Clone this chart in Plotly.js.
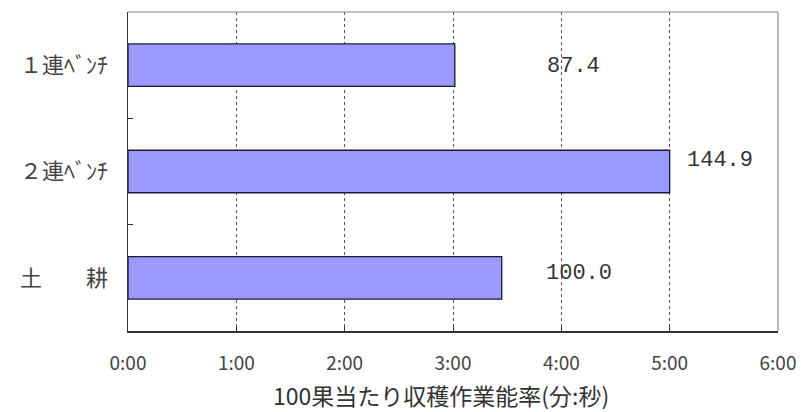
<!DOCTYPE html>
<html>
<head>
<meta charset="utf-8">
<script src="https://cdn.plot.ly/plotly-3.0.1.min.js"></script>
<style>
  html, body { margin: 0; padding: 0; background: #fff; }
  #chart { width: 801px; height: 412px; }
</style>
</head>
<body>
<div id="chart"></div>
<script>
// Harvest work time per 100 fruits, in seconds, by cultivation method
const categories = ['１連ﾍﾞﾝﾁ', '２連ﾍﾞﾝﾁ', '土　　耕'];
const seconds = [181, 300, 207];
// Index relative to soil cultivation (= 100.0)
const indexLabels = ['87.4', '144.9', '100.0'];
const tickSeconds = [0, 60, 120, 180, 240, 300, 360];
const tickLabels = ['0:00', '1:00', '2:00', '3:00', '4:00', '5:00', '6:00'];
const axisTitle = '100果当たり収穫作業能率(分:秒)';

// Placement of each index label: position along the axis (s) and vertical nudge (px)
const labelX = [247, 328, 250];
const labelShift = [-1.5, 11, 4.5];

const gothic = 'Noto Sans CJK JP, sans-serif';

const bars = {
  type: 'bar',
  orientation: 'h',
  y: categories,
  x: seconds,
  width: 0.4,
  marker: { color: '#9999FF', line: { color: '#1a1a33', width: 1.3 } },
  hoverinfo: 'skip'
};

const annotations = categories.map((c, i) => ({
  x: labelX[i], y: c, xref: 'x', yref: 'y',
  text: indexLabels[i], showarrow: false,
  yshift: labelShift[i],
  font: { family: 'Liberation Mono, DejaVu Sans Mono, monospace', size: 22, color: '#333' }
}));

// Axis title, set slightly left of the plot centre
annotations.push({
  xref: 'paper', yref: 'paper', x: 0.482, y: -0.2,
  xanchor: 'center', yanchor: 'middle',
  text: axisTitle, showarrow: false,
  font: { family: gothic, size: 23, color: '#333' }
});

const layout = {
  width: 801, height: 412,
  margin: { l: 128, r: 23, t: 12, b: 81 },
  paper_bgcolor: '#fff', plot_bgcolor: '#fff',
  showlegend: false,
  xaxis: {
    range: [0, 360],
    tickvals: tickSeconds, ticktext: tickLabels,
    showgrid: true, gridcolor: '#555', griddash: 'dot', gridwidth: 1,
    zeroline: false,
    showline: true, linecolor: '#333', linewidth: 1.5,
    ticks: 'inside', ticklen: 4, tickcolor: '#333',
    tickfont: { family: gothic, size: 19, color: '#444' },
    ticklabelstandoff: 15,
    fixedrange: true
  },
  yaxis: {
    type: 'category',
    categoryorder: 'array', categoryarray: categories.slice().reverse(),
    autorange: false, range: [-0.5, 2.5],
    tickson: 'boundaries',
    ticks: 'inside', ticklen: 5, tickcolor: '#333',
    showgrid: false, zeroline: false,
    showline: true, linecolor: '#333', linewidth: 1.5,
    tickfont: { family: gothic, size: 22, color: '#444' },
    ticklabelstandoff: 14,
    fixedrange: true
  },
  shapes: [
    { type: 'line', xref: 'paper', yref: 'paper', x0: 0, x1: 1, y0: 1, y1: 1,
      line: { color: '#888', width: 1.2 } },
    { type: 'line', xref: 'paper', yref: 'paper', x0: 1, x1: 1, y0: 0, y1: 1,
      line: { color: '#888', width: 1.2 } }
  ],
  annotations: annotations
};

Plotly.newPlot('chart', [bars], layout, { displayModeBar: false, staticPlot: true });
</script>
</body>
</html>
